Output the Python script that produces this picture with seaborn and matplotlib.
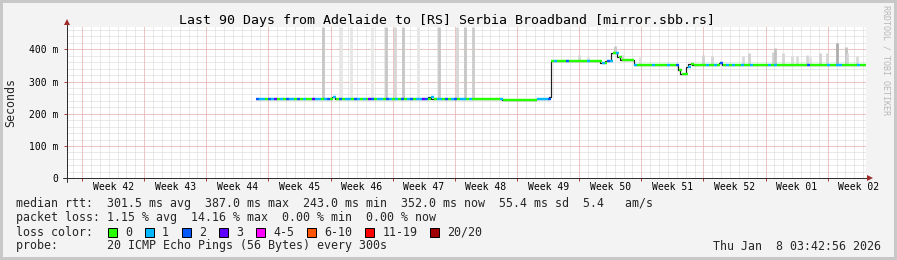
import numpy as np
import pandas as pd
import matplotlib
matplotlib.use("Agg")
import matplotlib.pyplot as plt
from matplotlib.patches import Rectangle
from matplotlib.lines import Line2D
import seaborn as sns

# ---------------- data ----------------
title = "Last 90 Days from Adelaide to [RS] Serbia Broadband [mirror.sbb.rs]"
week_labels = ["Week 42", "Week 43", "Week 44", "Week 45", "Week 46", "Week 47",
               "Week 48", "Week 49", "Week 50", "Week 51", "Week 52", "Week 01", "Week 02"]
week_boundary_days = [1.69, 8.69, 15.69, 22.69, 29.69, 36.69, 43.69,
                      50.69, 57.69, 64.69, 71.69, 78.69, 85.69]
y_ticks = [0, 100, 200, 300, 400]
y_tick_labels = ["0", "100 m", "200 m", "300 m", "400 m"]

# median rtt (ms), step function, day offsets within the 90-day window
median_day = [21.29, 29.85, 30.20, 40.66, 41.00, 45.96, 49.00, 52.83, 54.29, 54.52,
              60.04, 60.60, 61.27, 61.95, 62.29, 63.87, 68.82, 69.05, 69.72, 69.95,
              70.40, 73.44, 73.78, 90.00]
median_ms = [245, 251, 245, 251, 245, 247, 243, 247, 252, 365,
             356, 364, 388, 376, 366, 352, 336, 324, 345, 354,
             352, 357, 352, 352]

# loss per block (number of lost pings code), three stretches
loss_start = [21.29, 45.96, 54.52]
loss_end = [45.96, 54.52, 90.00]
loss_codes = [
    "2110213010" "2110201003" "1101201020" "1102101032"
    "0110210102" "0120113201" "0110201201" "1010",
    "000000000100000000000011112",
    "0100020000" "0010000102" "1010000010" "0000100001" "0020001000"
    "0010010201" "0100100100" "0001010000" "0000002000" "0001001100" "000100",
]

# smoke (spread of the individual pings): day, top value (ms), gray level
smoke_day = [28.84, 30.86, 31.99, 34.35, 35.93, 36.95, 37.85, 39.54, 41.90, 43.93,
             44.83, 45.73,
             57.67, 58.68, 61.73, 62.51, 64.54, 71.64, 72.65, 76.14, 76.82, 79.52,
             79.75, 80.65, 81.66, 82.23, 83.35, 83.69, 84.82, 85.60, 86.73, 87.74,
             87.86, 88.98]
smoke_top = [480, 480, 480, 480, 480, 480, 480, 480, 480, 480,
             480, 480,
             382, 376, 410, 382, 375, 382, 380, 380, 388, 392,
             404, 388, 380, 378, 382, 375, 388, 388, 420, 407,
             388, 380]
smoke_gray = [0.78, 0.90, 0.90, 0.91, 0.78, 0.84, 0.78, 0.90, 0.78, 0.84,
              0.78, 0.80,
              0.84, 0.86, 0.78, 0.84, 0.88, 0.82, 0.84, 0.86, 0.82, 0.82,
              0.76, 0.84, 0.86, 0.86, 0.84, 0.88, 0.82, 0.84, 0.68, 0.76,
              0.84, 0.86]

loss_labels = ["0", "1", "2", "3", "4-5", "6-10", "11-19", "20/20"]
loss_colors = ["#26ff00", "#00b8ff", "#0059ff", "#5e00ff",
               "#ff00ff", "#ff5500", "#ff0000", "#a00000"]

legend_rtt = "median rtt:  301.5 ms avg  387.0 ms max  243.0 ms min  352.0 ms now  55.4 ms sd  5.4   am/s"
legend_loss = "packet loss: 1.15 % avg  14.16 % max  0.00 % min  0.00 % now"
legend_color = "loss color:"
legend_probe = "probe:       20 ICMP Echo Pings (56 Bytes) every 300s"
stamp = "Thu Jan  8 03:42:56 2026"
watermark = "RRDTOOL / TOBI OETIKER"

# ---------------- style ----------------
sns.set_theme(style="white")
plt.rcParams['font.family'] = ['DejaVu Sans Mono', 'DejaVu Sans']

W, H = 897, 260
fig = plt.figure(figsize=(W / 100, H / 100), dpi=100)
fig.patch.set_facecolor("#f3f3f3")


def fx(px):
    return px / W


def fy(py):
    return 1 - py / H


ax_left, ax_right, ax_top, ax_bot = 67, 866, 26.7, 178.3
ax = fig.add_axes([fx(ax_left), fy(ax_bot), fx(ax_right - ax_left), (ax_bot - ax_top) / H])
ax.set_facecolor("white")
XMAX, YMAX = 90.0, 470.0
for s in ax.spines.values():
    s.set_visible(False)

px_w = 0.72  # one pixel in points
minor_c, major_c = "#d4d4d4", "#f2a3a3"
dots = (0, (1, 1))
# minor grid
for d in np.arange(week_boundary_days[0] - 1, XMAX, 1.0):
    ax.axvline(d, color=minor_c, lw=px_w, ls=dots, zorder=0)
for v in np.arange(20, YMAX, 20):
    ax.axhline(v, color=minor_c, lw=px_w, ls=dots, zorder=0)
# major grid
for d in week_boundary_days:
    ax.axvline(d, color=major_c, lw=px_w, ls=dots, zorder=0.5)
for v in y_ticks[1:]:
    ax.axhline(v, color=major_c, lw=px_w, ls=dots, zorder=0.5)

md = np.array(median_day)
mv = np.array(median_ms)


def median_at(d):
    i = np.clip(np.searchsorted(md, d, side="right") - 1, 0, len(md) - 1)
    return mv[i]


# smoke
sd = np.array(smoke_day)
ax.vlines(sd, median_at(sd), np.minimum(smoke_top, YMAX),
          colors=[str(g) for g in smoke_gray], lw=2.8 * px_w, zorder=1, capstyle="butt")

# median line (dark connecting step line)
df = pd.DataFrame({"day": median_day, "ms": median_ms})
sns.lineplot(data=df, x="day", y="ms", ax=ax, color="#202020", lw=1.2 * px_w,
             drawstyle="steps-post", estimator=None, sort=False, zorder=2)

# loss coloured median blocks
for st, en, codes in zip(loss_start, loss_end, loss_codes):
    edges = np.linspace(st, en, len(codes) + 1)
    x0, x1 = edges[:-1], edges[1:]
    yv = median_at(x0 + 1e-6)
    cols = [loss_colors[int(c)] for c in codes]
    ax.hlines(yv, x0, x1, colors=cols, lw=2.4 * px_w, zorder=3, capstyle="butt")

ax.set_xlim(0, XMAX)
ax.set_ylim(0, YMAX)
ax.set_xlabel("")
ax.set_ylabel("")

# axes lines with arrows
axis_c, arrow_c = "#303030", "#9e2a2a"
ax.add_line(Line2D([-0.5, XMAX + 0.4], [0, 0], color=axis_c, lw=px_w, clip_on=False, zorder=4))
ax.add_line(Line2D([0, 0], [-10, YMAX + 12], color=axis_c, lw=px_w, clip_on=False, zorder=4))
ax.plot([XMAX + 0.45], [0], marker=">", ms=4.5, color=arrow_c, clip_on=False, zorder=5, mew=0)
ax.plot([0], [YMAX + 14], marker="^", ms=4.5, color=arrow_c, clip_on=False, zorder=5, mew=0)

# ticks
ax.set_yticks(y_ticks, labels=y_tick_labels)
ax.set_xticks(week_boundary_days, labels=[""] * len(week_boundary_days))
mids = [d + 3.5 for d in week_boundary_days]
ax.set_xticks(mids, labels=week_labels, minor=True)
ax.tick_params(axis="x", which="major", length=2.2, width=px_w, color="#b04040", direction="out", bottom=True)
ax.tick_params(axis="x", which="minor", length=0, pad=2.5, labelsize=7.0, labelcolor="black")
ax.tick_params(axis="y", which="major", length=2.2, width=px_w, color="#b04040", pad=4.3,
               labelsize=7.0, labelcolor="black", left=True)
ax.grid(False)

# texts
fig.text(fx(446.5), fy(24), title, ha="center", va="baseline", fontsize=9.55, color="black")
fig.text(fx(10.5), fy(103), "Seconds", rotation=90, ha="center", va="center", fontsize=8.4)
fig.text(fx(886), fy(60), watermark, rotation=-90, ha="center", va="center",
         fontsize=6.0, color="#b8b8b8")

lx = fx(16)
fig.text(lx, fy(207.5), legend_rtt, ha="left", va="baseline", fontsize=8.4)
fig.text(lx, fy(221.5), legend_loss, ha="left", va="baseline", fontsize=8.4)
fig.text(lx, fy(235.5), legend_color, ha="left", va="baseline", fontsize=8.4)
fig.text(lx, fy(249.5), legend_probe, ha="left", va="baseline", fontsize=8.4)
fig.text(fx(881), fy(249.5), stamp, ha="right", va="baseline", fontsize=8.4)

x = 108.0
for lab, col in zip(loss_labels, loss_colors):
    fig.add_artist(Rectangle((fx(x), fy(236.5)), 9 / W, 9 / H, transform=fig.transFigure,
                             facecolor=col, edgecolor="black", lw=px_w))
    fig.text(fx(x + 17), fy(235.5), lab, ha="left", va="baseline", fontsize=8.4)
    x += 17 + len(lab) * 7.02 + 13

# border
bc = "#c8c8c8"
fig.add_artist(Rectangle((0, 0), 1, 1, transform=fig.transFigure, fill=False,
                         edgecolor=bc, lw=3 * px_w * 2))

fig.savefig("out.png", dpi=100, facecolor=fig.get_facecolor())
